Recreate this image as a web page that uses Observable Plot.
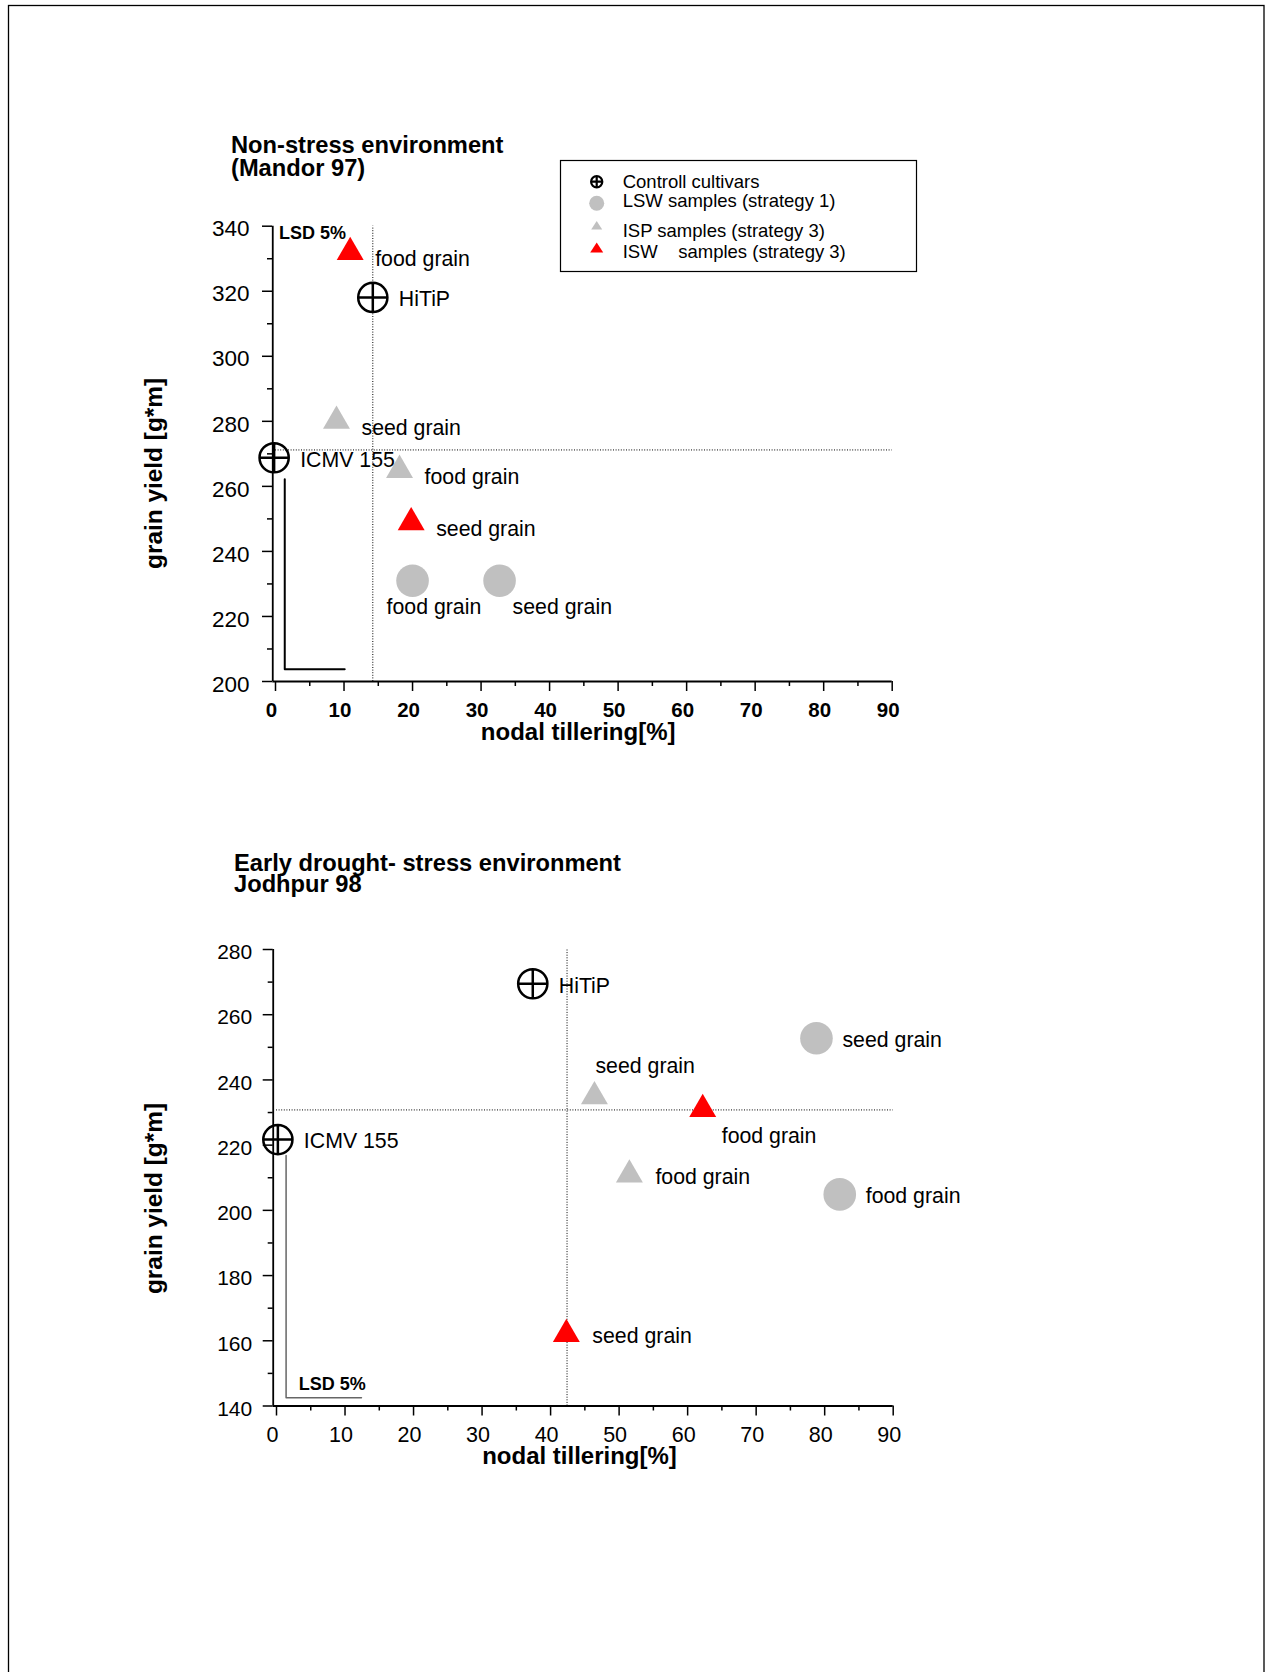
<!DOCTYPE html>
<html><head><meta charset="utf-8">
<script src="https://cdn.jsdelivr.net/npm/d3@7"></script>
<script src="https://cdn.jsdelivr.net/npm/@observablehq/plot@0.6"></script>
<style>
html,body{margin:0;padding:0;background:#fff;overflow:hidden;}
#page{position:relative;width:1266px;height:1672px;}
#page > svg{position:absolute;left:0;}
</style></head><body><div id="page"></div>
<script>
// ---------- data ----------
const FONT = "'Liberation Sans', Arial, Helvetica, sans-serif";
const legendLabels = ["Controll cultivars", "LSW samples (strategy 1)", "ISP samples (strategy 3)", "ISW    samples (strategy 3)"];
const titleM97 = ["Non-stress environment", "(Mandor 97)"];
const titleJ98 = ["Early drought- stress environment", "Jodhpur 98"];
const xTitle = "nodal tillering[%]";
const yTitle = "grain yield [g*m]";
const xTicks = [0, 10, 20, 30, 40, 50, 60, 70, 80, 90];
const xMinor = [5, 15, 25, 35, 45, 55, 65, 75, 85];
const y1Ticks = [200, 220, 240, 260, 280, 300, 320, 340];
const y1Minor = [210, 230, 250, 270, 290, 310, 330];
const y2Ticks = [140, 160, 180, 200, 220, 240, 260, 280];
const y2Minor = [150, 170, 190, 210, 230, 250, 270];

// Non-stress environment (Mandor 97)
const m97Label = ["HiTiP", "ICMV 155", "food grain", "seed grain", "food grain", "seed grain", "food grain", "seed grain"];
const m97Group = ["control", "control", "ISW", "ISP", "ISP", "ISW", "LSW", "LSW"];
const m97Tillering = [14.2, -0.2, 10.9, 8.9, 18.1, 19.8, 20.0, 32.7];
const m97Yield = [318.1, 268.8, 332.0, 280.1, 265.0, 248.9, 231.0, 231.0];
const m97Side = ["right", "right", "rightLow", "rightLow", "rightLow", "rightLow", "belowLeft", "belowRight"];
const m97RefX = [14.2];
const m97RefY = [271.2];
const m97LsdX = [1.35, 1.35, 10.1];
const m97LsdY = [262.2, 203.8, 203.8];
const m97LsdLabelX = [0.5];
const m97LsdLabelY = [337.7];

// Early drought stress environment (Jodhpur 98)
const j98Label = ["HiTiP", "ICMV 155", "seed grain", "seed grain", "food grain", "food grain", "food grain", "seed grain"];
const j98Group = ["control", "control", "LSW", "ISP", "ISW", "ISP", "LSW", "ISW"];
const j98Tillering = [37.4, 0.2, 78.8, 46.4, 62.2, 51.5, 82.2, 42.3];
const j98Yield = [269.5, 221.7, 252.8, 234.9, 231.0, 210.9, 204.9, 162.0];
const j98Side = ["right", "right", "right", "above", "below", "right", "right", "right"];
const j98RefX = [42.4];
const j98RefY = [230.8];
const j98LsdX = [1.4, 1.4, 12.4];
const j98LsdY = [216.8, 142.5, 142.5];
const j98LsdLabelX = [3.25];
const j98LsdLabelY = [146.6];

// ---------- styling ----------
const GRAY = "#c0c0c0", RED = "#ff0000";
const noLabel = () => null;
const sideOffset = {
  right: [26, 2], rightLow: [25, 7], belowLeft: [-26, 26], belowRight: [13, 26],
  above: [1, -30], below: [19, 27]
};
const crossCircle = {
  draw(ctx, size) {
    const r = Math.sqrt(size / Math.PI);
    ctx.moveTo(r, 0); ctx.arc(0, 0, r, 0, 2 * Math.PI);
    ctx.moveTo(-r, 0); ctx.lineTo(r, 0);
    ctx.moveTo(0, -r); ctx.lineTo(0, r);
  }
};

function scatter(cfg) {
  const rows = cfg.label.map((l, i) => ({label: l, group: cfg.group[i], x: cfg.tillering[i], y: cfg.yield[i], side: cfg.side[i]}));
  const lsd = cfg.lsdX.map((x, i) => ({x, y: cfg.lsdY[i]}));
  const lsdLab = cfg.lsdLabelX.map((x, i) => ({x, y: cfg.lsdLabelY[i], t: "LSD 5%"}));
  const [y0, y1] = cfg.yDomain;
  const labelMarks = Object.keys(sideOffset).map(s => Plot.text(rows.filter(d => d.side === s), {
    x: "x", y: "y", text: "label", dx: sideOffset[s][0], dy: sideOffset[s][1],
    textAnchor: "start", fontSize: 21.3, fill: "#000"
  }));
  return Plot.plot({
    width: 1266, height: cfg.height,
    marginTop: cfg.mt, marginBottom: cfg.mb, marginLeft: cfg.ml, marginRight: cfg.mr,
    x: {domain: [0, 90]},
    y: {domain: cfg.yDomain},
    style: {background: "transparent", overflow: "visible", fontFamily: FONT, color: "#000"},
    marks: [
      // reference lines
      Plot.ruleX(cfg.refX, {y1: y0, y2: y1, stroke: "#000", strokeWidth: 1, strokeDasharray: "1,1.6"}),
      Plot.ruleY(cfg.refY, {x1: 0, x2: 90, stroke: "#000", strokeWidth: 1, strokeDasharray: "1,1.6"}),
      // LSD bar
      Plot.line(lsd, {x: "x", y: "y", stroke: cfg.lsdStroke, strokeWidth: cfg.lsdWidth}),
      Plot.text(lsdLab, {x: "x", y: "y", text: "t", textAnchor: "start", fontWeight: "bold", fontSize: 18}),
      // axis lines
      Plot.ruleX([cfg.axisX0], {y1: y0, y2: y1, stroke: "#000", strokeWidth: 1.8}),
      Plot.ruleY([y0], {x1: cfg.axisX0, x2: 90, stroke: "#000", strokeWidth: 2}),
      // y ticks
      Plot.axisY(cfg.yTicks, {tickSize: 10, tickFormat: noLabel, label: null, dx: cfg.yTickShift, strokeWidth: 1.5}),
      Plot.axisY(cfg.yMinor, {tickSize: 5, tickFormat: noLabel, label: null, dx: cfg.yTickShift, strokeWidth: 1.5}),
      Plot.axisY(cfg.yTicks, {tickSize: 0, tickPadding: cfg.yPad, dy: cfg.yLabDy, label: null, fontSize: cfg.yFont}),
      // x ticks
      Plot.axisX(xTicks, {tickSize: 10, tickFormat: noLabel, label: null, strokeWidth: 1.5}),
      Plot.axisX(xMinor, {tickSize: 5, tickFormat: noLabel, label: null, strokeWidth: 1.5}),
      Plot.axisX(xTicks, {tickSize: 0, tickPadding: cfg.xPad, dx: -4, label: null, fontSize: cfg.xFont, fontWeight: cfg.xWeight}),
      // points
      Plot.dot(rows.filter(d => d.group === "LSW"), {x: "x", y: "y", r: 16.3, fill: GRAY, symbol: "circle"}),
      Plot.dot(rows.filter(d => d.group === "ISP"), {x: "x", y: "y", r: 10, fill: GRAY, symbol: "triangle"}),
      Plot.dot(rows.filter(d => d.group === "ISW"), {x: "x", y: "y", r: 10, fill: RED, symbol: "triangle"}),
      Plot.dot(rows.filter(d => d.group === "control"), {x: "x", y: "y", r: 14.6, fill: "none", stroke: "#000", strokeWidth: 2.5, symbol: crossCircle}),
      ...labelMarks,
      // axis titles
      Plot.text([yTitle], {frameAnchor: "left", dx: cfg.ytDx, dy: cfg.ytDy, rotate: -90, text: d => d, textAnchor: "middle", lineAnchor: "middle", fontSize: 24.4, fontWeight: "bold"}),
      Plot.text([xTitle], {frameAnchor: "bottom", dx: cfg.xtDx, dy: cfg.xtDy, text: d => d, textAnchor: "middle", lineAnchor: "top", fontSize: 24, fontWeight: "bold"})
    ]
  });
}

const page = d3.select("#page");

// overlay: border, titles, legend
const ov = page.append("svg").attr("width", 1266).attr("height", 1672).style("top", "0px").attr("font-family", FONT);
ov.append("rect").attr("x", 8.5).attr("y", 5.5).attr("width", 1255.5).attr("height", 1720)
  .attr("fill", "none").attr("stroke", "#000").attr("stroke-width", 1.3);
[[titleM97, 231, 153, 23], [titleJ98, 234, 871, 21]].forEach(([lines, x, y, lh]) => {
  const t = ov.append("text").attr("x", x).attr("y", y).attr("font-size", 23.7).attr("font-weight", "bold");
  lines.forEach((l, i) => t.append("tspan").attr("x", x).attr("dy", i ? lh : 0).text(l));
});
// legend
ov.append("rect").attr("x", 560.5).attr("y", 160.5).attr("width", 356).attr("height", 111)
  .attr("fill", "none").attr("stroke", "#000").attr("stroke-width", 1.2);
const lgX = 596.7, lgY = [181.7, 203.3, 226, 248.5], lgBase = [187.5, 206.5, 236.5, 257.5];
ov.append("circle").attr("cx", lgX).attr("cy", lgY[0]).attr("r", 5.6).attr("fill", "none").attr("stroke", "#000").attr("stroke-width", 2.2);
ov.append("path").attr("d", `M${lgX - 5.6},${lgY[0]}H${lgX + 5.6}M${lgX},${lgY[0] - 5.6}V${lgY[0] + 5.6}`).attr("stroke", "#000").attr("stroke-width", 2.2);
ov.append("circle").attr("cx", lgX).attr("cy", lgY[1]).attr("r", 7.5).attr("fill", GRAY);
ov.append("path").attr("d", `M${lgX},${lgY[2] - 5}L${lgX + 5.5},${lgY[2] + 3.5}L${lgX - 5.5},${lgY[2] + 3.5}Z`).attr("fill", GRAY);
ov.append("path").attr("d", `M${lgX},${lgY[3] - 6}L${lgX + 6.5},${lgY[3] + 4}L${lgX - 6.5},${lgY[3] + 4}Z`).attr("fill", RED);
legendLabels.forEach((l, i) => ov.append("text").attr("x", 622.7).attr("y", lgBase[i]).attr("font-size", 18.5)
  .attr("xml:space", "preserve").style("white-space", "pre").text(l));

// chart 1
const c1 = scatter({
  label: m97Label, group: m97Group, tillering: m97Tillering, yield: m97Yield, side: m97Side,
  refX: m97RefX, refY: m97RefY, lsdX: m97LsdX, lsdY: m97LsdY, lsdLabelX: m97LsdLabelX, lsdLabelY: m97LsdLabelY,
  lsdStroke: "#000", lsdWidth: 2, yDomain: [200, 340], yTicks: y1Ticks, yMinor: y1Minor,
  height: 790, mt: 225.7, mb: 109, ml: 275, mr: 374.3, axisX0: -0.4, yTickShift: -3,
  yPad: 26, yLabDy: 3, yFont: 22.5, xPad: 20.5, xFont: 20.5, xWeight: "bold",
  ytDx: -121.4, ytDy: 19.6, xtDx: -5.7, xtDy: 41.5
});
c1.style.top = "0px";
page.node().appendChild(c1);

// chart 2
const c2 = scatter({
  label: j98Label, group: j98Group, tillering: j98Tillering, yield: j98Yield, side: j98Side,
  refX: j98RefX, refY: j98RefY, lsdX: j98LsdX, lsdY: j98LsdY, lsdLabelX: j98LsdLabelX, lsdLabelY: j98LsdLabelY,
  lsdStroke: "#666", lsdWidth: 1.5, yDomain: [140, 280], yTicks: y2Ticks, yMinor: y2Minor,
  height: 700, mt: 149, mb: 94.5, ml: 276, mr: 373.3, axisX0: -0.48, yTickShift: -3.3,
  yPad: 24.3, yLabDy: 3, yFont: 21, xPad: 20.5, xFont: 21.5, xWeight: "normal",
  ytDx: -122.4, ytDy: 20.75, xtDx: -5.35, xtDy: 41.2
});
c2.style.top = "800px";
page.node().appendChild(c2);
</script></body></html>
